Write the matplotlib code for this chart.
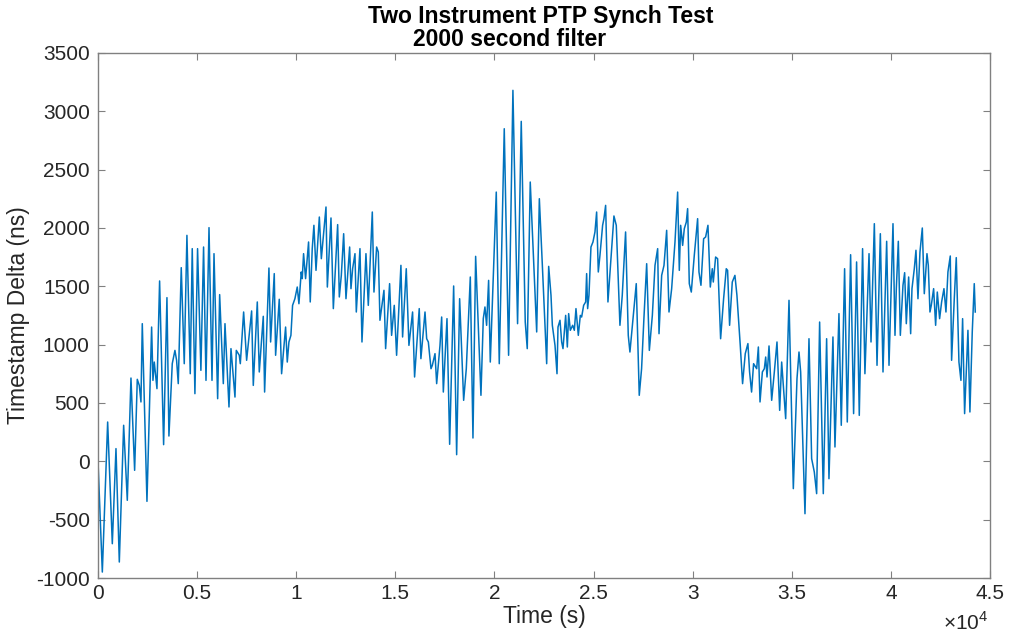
import matplotlib
matplotlib.use("Agg")
import matplotlib.pyplot as plt

# values (peaks / troughs)
time_s = [
    0, 218, 487, 722, 907, 1075, 1294, 1478, 1663, 1848, 1982, 2083, 2167, 2234, 2470,
    2705, 2772, 2839, 2974, 3108, 3310, 3478, 3578, 3746, 3881, 3965, 4049, 4200, 4351,
    4486, 4654, 4754, 4889, 5023, 5191, 5326,
    5448, 5600, 5751, 5852, 6036, 6137, 6322, 6406, 6608, 6708, 6910, 6977, 7128, 7179,
    7347, 7498, 7750, 7834, 8036, 8136, 8338, 8405, 8624, 8708, 8892, 8960, 9144, 9262,
    9464, 9548, 9632, 9732, 9816, 9934, 10052, 10136, 10253, 10304, 10371, 10472, 10623,
    10707, 10808, 10892,
    10998, 11166, 11267, 11402, 11502, 11570, 11754, 11872, 12090, 12174, 12275, 12393,
    12510, 12695, 12762, 12846, 12964, 13031, 13216, 13317, 13518, 13636, 13838, 13922,
    14056, 14140, 14224, 14426, 14510, 14711, 14812, 14946, 15064, 15282, 15366, 15551,
    15686, 15870, 15971, 16206, 16290,
    16497, 16581, 16665, 16799, 16867, 17001, 17085, 17253, 17337, 17421, 17606, 17740,
    17942, 18093, 18244, 18446, 18580, 18782, 18916, 19051, 19319, 19437, 19521, 19605,
    19706, 19790, 20092, 20243, 20495, 20714, 20932, 21167, 21352, 21554, 21655, 21806,
    22131, 22265, 22417, 22635, 22736, 22853, 22921, 23055, 23156, 23206, 23307, 23391,
    23458, 23593, 23677, 23744, 23828, 23946, 24030, 24113, 24231, 24332, 24399, 24500,
    24601, 24651, 24701, 24768, 24869, 24970, 25071, 25155, 25239, 25323, 25457, 25524,
    25609, 25726, 25877, 26028, 26146, 26331, 26448, 26616, 26751, 26835, 27154, 27305,
    27423, 27540,
    27680, 27814, 27966, 28100, 28234, 28302, 28436, 28554, 28688, 28806, 28940, 29108,
    29242, 29326, 29394, 29494, 29578, 29679, 29746, 29830, 29931, 30082, 30250, 30318,
    30418, 30553, 30654, 30771, 30889, 30990, 31040, 31158, 31258, 31410, 31561, 31695,
    31762, 31863, 31998, 32132, 32233, 32401, 32518, 32653, 32787, 32871, 32972, 33073,
    33230, 33314, 33398, 33516, 33616, 33684, 33751, 33852, 33986, 34120, 34254, 34389,
    34490, 34692, 34860, 35078, 35263, 35364, 35448, 35666, 35868, 36002, 36136, 36254,
    36405, 36590, 36758, 36876, 37077, 37178, 37380, 37497, 37665, 37800, 37968, 38119,
    38270, 38405, 38572, 38690,
    38897, 38997, 39165, 39300, 39468, 39602, 39787, 39905, 40106, 40207, 40274, 40375,
    40476, 40610, 40694, 40778, 40896, 40997, 41064, 41181, 41265, 41366, 41467, 41585,
    41685, 41820, 41887, 41971, 42038, 42156, 42257, 42341, 42458, 42559, 42677, 42778,
    42878, 42996, 43063, 43198, 43298, 43433, 43534, 43618, 43719, 43887, 43987, 44105,
    44206, 44256,
]
delta_ns = [
    0, -949, 337, -706, 109, -863, 309, -334, 714, -77, 703, 651, 509, 1180, -343,
    1151, 694, 851, 623, 1546, 143, 1403, 217, 837, 951, 866, 666, 1660, 837,
    1937, 751, 1823, 580, 1823, 780, 1837,
    694, 2003, 694, 1780, 537, 1429, 666, 1180, 466, 966, 551, 951, 909, 837,
    1280, 866, 1289, 651, 1366, 766, 1243, 594, 1657, 1023, 1609, 909, 1389, 751,
    1151, 851, 1023, 1080, 1337, 1394, 1494, 1351, 1623, 1566, 1780, 1566, 1880,
    1366, 1823, 2023,
    1637, 2094, 1737, 1994, 2180, 1494, 2086, 1309, 2029, 1409, 1594, 1951,
    1394, 1837, 1480, 1651, 1780, 1280, 1823, 1023, 1780, 1337, 2137, 1451,
    1837, 1794, 1209, 1466, 966, 1523, 1080, 1337, 909, 1680, 1066, 1651,
    994, 1280, 723, 1309, 880,
    1280, 1051, 1023, 794, 823, 923, 666, 994, 1237, 594, 1223, 146,
    1503, 57, 1394, 523, 794, 1580, 200, 1757, 566, 1223, 1323, 1166,
    1551, 851, 2308, 837, 2851, 909, 3180, 1180, 2914, 1194, 966, 2394,
    1109, 2251, 1680, 837, 1671, 1423, 1166, 994, 751, 1151, 1209, 1023,
    966, 1251, 980, 1266, 1123, 1166, 1123, 1309, 1080, 1251, 1237, 1337,
    1366, 1609, 1309, 1423, 1837, 1880, 1966, 2137, 1623, 1766, 2023, 2080,
    2194, 1366, 1737, 2103, 2023, 1166, 1423, 1966, 1080, 937, 1523, 566,
    794, 1223,
    1694, 951, 1251, 1680, 1823, 1094, 1594, 1680, 1980, 1280, 1480, 1880,
    2308, 1637, 2023, 1851, 1994, 2051, 2166, 1523, 1451, 1766, 2080, 1623,
    1509, 1908, 1923, 2023, 1494, 1651, 1537, 1751, 1737, 1051, 1394, 1651,
    1637, 1166, 1537, 1594, 1423, 994, 666, 923, 1009, 766, 594, 837,
    794, 980, 509, 766, 794, 894, 723, 989, 523, 766, 1023, 437,
    851, 366, 1380, -234, 709, 937, 766, -449, 1051, 23, -91, -277,
    1194, -277, 1051, -149, 1066, 123, 1266, 309, 1651, 337, 1771, 409,
    1709, 394, 1823, 751,
    1780, 1023, 2037, 823, 1951, 766, 1886, 823, 2037, 1080, 1480, 1886,
    1080, 1509, 1617, 1180, 1580, 1094, 1480, 1651, 1809, 1394, 1794, 2000,
    1437, 1780, 1680, 1280, 1337, 1480, 1166, 1451, 1223, 1366, 1480, 1280,
    1623, 1760, 866, 1394, 1746, 851, 694, 1223, 409, 1123, 423, 1109,
    1523, 1280,
]

x_ticks = [0, 5000, 10000, 15000, 20000, 25000, 30000, 35000, 40000, 45000]
x_tick_labels = ["0", "0.5", "1", "1.5", "2", "2.5", "3", "3.5", "4", "4.5"]
y_ticks = [-1000, -500, 0, 500, 1000, 1500, 2000, 2500, 3000, 3500]

plt.rcParams["font.family"] = ["Liberation Sans", "DejaVu Sans"]
plt.rcParams["mathtext.fontset"] = "custom"
plt.rcParams["mathtext.rm"] = "Liberation Sans"
plt.rcParams["axes.unicode_minus"] = False

fig = plt.figure(figsize=(10.13, 6.37), dpi=100)
ax = fig.add_axes([98 / 1013, 1 - 578 / 637, 892 / 1013, 525 / 637])

ax.plot(time_s, delta_ns, color="#0072BD", lw=1.1)

ax.set_xlim(0, 45000)
ax.set_ylim(-1000, 3500)
ax.set_xticks(x_ticks)
ax.set_xticklabels(x_tick_labels)
ax.set_yticks(y_ticks)
ax.tick_params(direction="in", top=True, right=True, length=5, width=0.8,
               color="#808080", labelcolor="#262626", labelsize=15)
ax.tick_params(axis="x", pad=4)
ax.tick_params(axis="y", pad=6)
for sp in ax.spines.values():
    sp.set_color("#808080")
    sp.set_linewidth(1.0)

ax.set_xlabel("Time (s)", fontsize=16.5, color="#262626", labelpad=2)
ax.set_ylabel("Timestamp Delta (ns)", fontsize=16.5, color="#262626", labelpad=4)

fig.text(541 / 1013, 1 - 17 / 637, "Two Instrument PTP Synch Test",
         ha="center", va="center", fontsize=16.5, fontweight="bold")
fig.text(510 / 1013, 1 - 40 / 637, "2000 second filter",
         ha="center", va="center", fontsize=16.5, fontweight="bold")
fig.text(988 / 1013, 1 - 622 / 637, r"$\times10^{4}$",
         ha="right", va="center", fontsize=15, color="#262626")

fig.savefig("out.png", dpi=100)
